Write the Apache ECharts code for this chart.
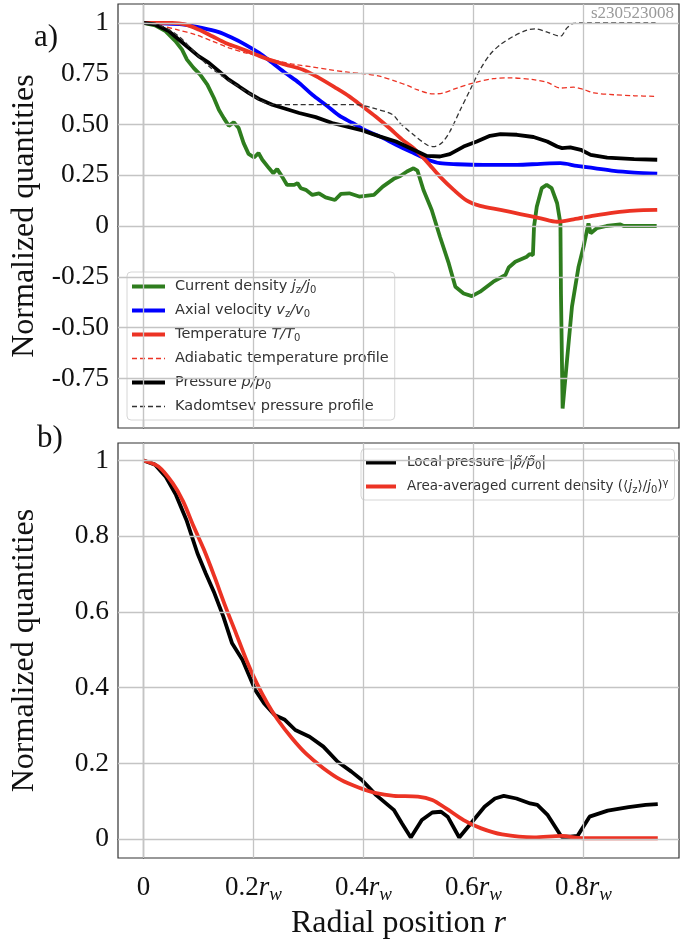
<!DOCTYPE html>
<html>
<head>
<meta charset="utf-8">
<script src="https://cdn.jsdelivr.net/npm/echarts@6/dist/echarts.min.js"></script>
<style>
  html, body { margin: 0; padding: 0; background: #fff; }
  #main { width: 688px; height: 941px; }
</style>
</head>
<body>
<div id="main"></div>
<script>
// ---- data (x in units of r_w) ----
var xTicks = [0, 0.2, 0.4, 0.6, 0.8];
var yTicksA = [-0.75, -0.5, -0.25, 0, 0.25, 0.5, 0.75, 1];
var yTicksB = [0, 0.2, 0.4, 0.6, 0.8, 1];

// panel a)
var currentDensity = [[0,1],[0.021,0.987],[0.040,0.959],[0.058,0.910],[0.070,0.868],[0.079,0.819],[0.091,0.778],[0.103,0.745],[0.116,0.696],[0.128,0.630],[0.137,0.572],[0.146,0.531],[0.155,0.493],[0.164,0.510],[0.173,0.482],[0.182,0.408],[0.191,0.355],[0.201,0.337],[0.209,0.359],[0.216,0.326],[0.228,0.285],[0.236,0.260],[0.243,0.280],[0.252,0.243],[0.261,0.202],[0.274,0.202],[0.280,0.211],[0.286,0.186],[0.295,0.178],[0.307,0.153],[0.319,0.161],[0.331,0.141],[0.348,0.128],[0.359,0.158],[0.374,0.161],[0.392,0.145],[0.419,0.153],[0.435,0.194],[0.455,0.232],[0.467,0.246],[0.479,0.268],[0.491,0.284],[0.498,0.273],[0.509,0.177],[0.524,0.079],[0.539,-0.053],[0.555,-0.184],[0.567,-0.299],[0.582,-0.332],[0.597,-0.345],[0.612,-0.323],[0.636,-0.274],[0.658,-0.241],[0.664,-0.204],[0.676,-0.176],[0.697,-0.151],[0.702,-0.138],[0.708,-0.143],[0.710,-0.003],[0.715,0.095],[0.724,0.186],[0.733,0.202],[0.742,0.186],[0.752,0.112],[0.758,0.013],[0.759,-0.332],[0.762,-0.898],[0.770,-0.660],[0.779,-0.397],[0.791,-0.200],[0.800,-0.102],[0.809,0.013],[0.813,-0.036],[0.824,-0.011],[0.842,0.000],[0.867,0.008],[0.873,0.000],[0.933,0.000]];
var axialVelocity = [[0,1],[0.033,0.997],[0.070,0.992],[0.106,0.975],[0.137,0.954],[0.161,0.926],[0.185,0.893],[0.210,0.852],[0.234,0.803],[0.258,0.753],[0.283,0.704],[0.307,0.646],[0.331,0.597],[0.356,0.543],[0.380,0.507],[0.404,0.470],[0.429,0.441],[0.459,0.400],[0.491,0.359],[0.515,0.329],[0.539,0.309],[0.570,0.304],[0.618,0.301],[0.679,0.301],[0.722,0.306],[0.758,0.309],[0.788,0.296],[0.819,0.285],[0.855,0.271],[0.892,0.263],[0.934,0.258]];
var temperature = [[0,1],[0.021,1.0],[0.052,1.0],[0.076,0.992],[0.100,0.967],[0.125,0.934],[0.149,0.901],[0.173,0.877],[0.204,0.844],[0.228,0.819],[0.258,0.794],[0.289,0.770],[0.319,0.729],[0.350,0.679],[0.374,0.638],[0.398,0.589],[0.422,0.539],[0.447,0.482],[0.471,0.424],[0.491,0.383],[0.515,0.317],[0.539,0.243],[0.564,0.178],[0.588,0.125],[0.612,0.099],[0.649,0.079],[0.685,0.059],[0.722,0.038],[0.752,0.021],[0.782,0.033],[0.819,0.051],[0.855,0.066],[0.892,0.076],[0.934,0.079]];
var adiabaticT = [[0,1],[0.033,0.984],[0.064,0.964],[0.094,0.942],[0.125,0.910],[0.155,0.877],[0.185,0.852],[0.216,0.832],[0.246,0.811],[0.277,0.794],[0.307,0.783],[0.337,0.770],[0.368,0.758],[0.398,0.750],[0.429,0.737],[0.459,0.712],[0.483,0.688],[0.497,0.671],[0.527,0.650],[0.545,0.655],[0.570,0.679],[0.600,0.704],[0.636,0.725],[0.667,0.729],[0.709,0.720],[0.734,0.707],[0.758,0.679],[0.782,0.683],[0.801,0.671],[0.819,0.655],[0.855,0.646],[0.892,0.641],[0.931,0.638]];
var pressure = [[0,1],[0.021,0.992],[0.046,0.959],[0.064,0.918],[0.082,0.877],[0.100,0.836],[0.119,0.803],[0.137,0.762],[0.155,0.720],[0.173,0.688],[0.191,0.655],[0.210,0.625],[0.234,0.597],[0.258,0.577],[0.283,0.556],[0.313,0.536],[0.343,0.507],[0.374,0.487],[0.398,0.470],[0.429,0.441],[0.459,0.416],[0.491,0.375],[0.515,0.345],[0.539,0.342],[0.557,0.354],[0.582,0.391],[0.606,0.416],[0.630,0.444],[0.649,0.452],[0.679,0.449],[0.709,0.438],[0.734,0.416],[0.752,0.391],[0.761,0.383],[0.776,0.387],[0.795,0.375],[0.813,0.350],[0.843,0.337],[0.892,0.329],[0.934,0.326]];
var kadomtsevP = [[0,1],[0.033,0.984],[0.064,0.934],[0.094,0.852],[0.119,0.786],[0.143,0.737],[0.167,0.696],[0.191,0.655],[0.216,0.613],[0.234,0.597],[0.277,0.597],[0.337,0.597],[0.386,0.597],[0.416,0.581],[0.453,0.548],[0.466,0.507],[0.491,0.449],[0.515,0.400],[0.527,0.391],[0.542,0.408],[0.557,0.465],[0.576,0.572],[0.594,0.671],[0.612,0.770],[0.630,0.844],[0.649,0.893],[0.673,0.934],[0.697,0.964],[0.712,0.970],[0.734,0.954],[0.758,0.934],[0.770,0.975],[0.782,0.997],[0.806,1.0],[0.931,1.0]];

// panel b)
var localPressure = [[0,1],[0.021,0.989],[0.040,0.958],[0.059,0.909],[0.078,0.843],[0.098,0.755],[0.113,0.702],[0.129,0.649],[0.145,0.588],[0.161,0.517],[0.180,0.473],[0.203,0.394],[0.219,0.359],[0.238,0.328],[0.257,0.315],[0.276,0.288],[0.302,0.270],[0.327,0.244],[0.353,0.204],[0.378,0.178],[0.397,0.156],[0.423,0.116],[0.455,0.077],[0.470,0.041],[0.486,0.004],[0.506,0.050],[0.525,0.070],[0.541,0.072],[0.553,0.059],[0.574,0.004],[0.595,0.041],[0.620,0.085],[0.639,0.107],[0.655,0.114],[0.678,0.107],[0.703,0.094],[0.716,0.090],[0.735,0.063],[0.760,0.006],[0.776,0.006],[0.789,0.008],[0.811,0.059],[0.844,0.075],[0.882,0.084],[0.913,0.090],[0.935,0.092]];
var avgCurrent = [[0,1],[0.027,0.984],[0.053,0.940],[0.072,0.892],[0.091,0.826],[0.110,0.764],[0.129,0.693],[0.149,0.614],[0.168,0.544],[0.187,0.473],[0.206,0.411],[0.225,0.359],[0.244,0.315],[0.270,0.266],[0.295,0.226],[0.327,0.187],[0.359,0.156],[0.391,0.136],[0.423,0.121],[0.455,0.114],[0.499,0.112],[0.525,0.103],[0.550,0.081],[0.582,0.050],[0.614,0.028],[0.652,0.012],[0.710,0.004],[0.760,0.008],[0.799,0.002],[0.935,0.002]];

var legendA = ['Current density', 'Axial velocity', 'Temperature', 'Adiabatic temperature profile', 'Pressure', 'Kadomtsev pressure profile'];
var legendB = ['Local pressure', 'Area-averaged current density'];
var thinLegend = { 'Adiabatic temperature profile': true, 'Kadomtsev pressure profile': true };
var legendText = {
  'Current density': 'Current density {i|j}{s|z}{i|/j}{s|0}',
  'Axial velocity': 'Axial velocity {i|v}{s|z}{i|/v}{s|0}',
  'Temperature': 'Temperature {i|T/T}{s|0}',
  'Adiabatic temperature profile': 'Adiabatic temperature profile',
  'Pressure': 'Pressure {i|p/p}{s|0}',
  'Kadomtsev pressure profile': 'Kadomtsev pressure profile',
  'Local pressure': 'Local pressure |{i|p\u0303/p\u0303}{s|0}|',
  'Area-averaged current density': 'Area-averaged current density (\u27e8{i|j}{s|z}\u27e9/{i|j}{s|0}){u|\u03b3}'
};

var X_MIN = -0.0464, X_MAX = 0.9736;
var SERIF = '"Liberation Serif", "DejaVu Serif", serif';
var SANS = '"DejaVu Sans", sans-serif';
var RED = '#ec3324', GREEN = '#2e7d1e', BLUE = '#0000ff';
var LW = 3.8;

function legendRich(fs) {
  var sub = Math.round(fs * 0.72);
  return {
    i: { fontStyle: 'italic', fontFamily: SANS, fontSize: fs, color: '#333', lineHeight: 17 },
    s: { fontFamily: SANS, fontSize: sub, color: '#333', verticalAlign: 'bottom', lineHeight: 17, padding: [7, 0, 0, 0] },
    u: { fontFamily: SANS, fontSize: sub, color: '#333', verticalAlign: 'top', lineHeight: 17, padding: [0, 0, 7, 0] }
  };
}

function legendItems(names) {
  return names.map(function (n) {
    return { name: n, lineStyle: { width: thinLegend[n] ? 1.4 : 4 } };
  });
}

function gridLines(xi, ticksY) {
  var d = [];
  xTicks.forEach(function (v) { d.push({ xAxis: v }); });
  ticksY.forEach(function (v) { d.push({ yAxis: v }); });
  return {
    type: 'line', xAxisIndex: xi, yAxisIndex: xi, data: [], silent: true, z: 1,
    markLine: {
      silent: true, symbol: 'none', animation: false,
      label: { show: false },
      lineStyle: { color: '#c4c4c4', width: 1.3, type: 'solid' },
      emphasis: { disabled: true },
      data: d
    }
  };
}

function curve(name, data, idx, color, width, dashed, smooth) {
  return {
    name: name, type: 'line', xAxisIndex: idx, yAxisIndex: idx,
    data: data, showSymbol: false, symbol: 'none', smooth: smooth ? 0.3 : false,
    z: 3,
    lineStyle: { color: color, width: width, type: dashed ? [5, 3] : 'solid' },
    itemStyle: { color: color }
  };
}

var xLabelRich = {
  n: { fontFamily: SERIF, fontSize: 27, color: '#111', lineHeight: 32 },
  r: { fontFamily: SERIF, fontStyle: 'italic', fontSize: 27, color: '#111', lineHeight: 32 },
  w: { fontFamily: SERIF, fontStyle: 'italic', fontSize: 19, color: '#111', verticalAlign: 'bottom', padding: [11, 0, 0, 0] }
};

function yAxisCfg(idx, min, max, ticks, fmt) {
  return {
    type: 'value', gridIndex: idx, min: min, max: max,
    name: 'Normalized quantities', nameLocation: 'middle', nameGap: 77,
    nameTextStyle: { fontFamily: SERIF, fontSize: 32, color: '#111' },
    axisLine: { show: true, lineStyle: { color: '#333', width: 1.2 } },
    axisTick: { show: true, inside: false, length: 5, lineStyle: { color: '#333', width: 1 }, customValues: ticks },
    axisLabel: { show: true, margin: 9, fontFamily: SERIF, fontSize: 27.5, color: '#111', customValues: ticks, formatter: fmt },
    splitLine: { show: false }
  };
}

var legendCommon = {
  orient: 'vertical', itemHeight: 16, itemGap: 7,
  backgroundColor: 'rgba(255,255,255,0.85)', borderColor: '#d6d6d6', borderWidth: 1, borderRadius: 4,
  selectedMode: false,
  itemStyle: { opacity: 0, color: 'rgba(0,0,0,0)', borderWidth: 0 },
  formatter: function (name) { return legendText[name]; }
};

var option = {
  animation: false,
  backgroundColor: '#fff',
  grid: [
    { left: 118, top: 4, width: 561, height: 424, show: true, borderColor: '#333', borderWidth: 1.2, backgroundColor: 'transparent' },
    { left: 118, top: 443, width: 561, height: 415, show: true, borderColor: '#333', borderWidth: 1.2, backgroundColor: 'transparent' }
  ],
  xAxis: [
    {
      type: 'value', gridIndex: 0, min: X_MIN, max: X_MAX,
      axisLine: { show: true, lineStyle: { color: '#333', width: 1.2 } },
      axisTick: { show: true, inside: false, length: 5, lineStyle: { color: '#333' }, customValues: xTicks },
      axisLabel: { show: false },
      splitLine: { show: false }
    },
    {
      type: 'value', gridIndex: 1, min: X_MIN, max: X_MAX,
      name: 'Radial position {i|r}', nameLocation: 'middle', nameGap: 50,
      nameTextStyle: { fontFamily: SERIF, fontSize: 32, color: '#111',
        rich: { i: { fontFamily: SERIF, fontStyle: 'italic', fontSize: 32, color: '#111' } } },
      axisLine: { show: true, lineStyle: { color: '#333', width: 1.2 } },
      axisTick: { show: true, inside: false, length: 5, lineStyle: { color: '#333' }, customValues: xTicks },
      axisLabel: {
        show: true, margin: 14, customValues: xTicks, rich: xLabelRich,
        formatter: function (v) {
          if (Math.abs(v) < 1e-9) return '{n|0}';
          return '{n|' + (Math.round(v * 10) / 10).toFixed(1) + '}{r|r}{w|w}';
        }
      },
      splitLine: { show: false }
    }
  ],
  yAxis: [
    yAxisCfg(0, -0.994, 1.0925, yTicksA, function (v) {
      if (Math.abs(v) < 1e-9) return '0';
      if (Math.abs(v - 1) < 1e-9) return '1';
      return v.toFixed(2);
    }),
    yAxisCfg(1, -0.0502, 1.0462, yTicksB, function (v) {
      if (Math.abs(v) < 1e-9) return '0';
      if (Math.abs(v - 1) < 1e-9) return '1';
      return v.toFixed(1);
    })
  ],
  legend: [
    Object.assign({}, legendCommon, {
      data: legendItems(legendA), left: 127, top: 272,
      itemWidth: 33, padding: [6, 6, 5, 3],
      textStyle: { fontFamily: SANS, fontSize: 14.5, lineHeight: 17, color: '#333', padding: [0, 0, 0, 5], rich: legendRich(14.5) }
    }),
    Object.assign({}, legendCommon, {
      data: legendItems(legendB), left: 361, top: 449,
      itemWidth: 30, padding: [5, 6, 5, 3],
      textStyle: { fontFamily: SANS, fontSize: 13.5, lineHeight: 17, color: '#333', padding: [0, 0, 0, 6], rich: legendRich(13.5) }
    })
  ],
  graphic: [
    { type: 'text', left: 34, top: 22, style: { text: 'a)', fontFamily: SERIF, fontSize: 31, fill: '#111' } },
    { type: 'text', left: 37, top: 423, style: { text: 'b)', fontFamily: SERIF, fontSize: 31, fill: '#111' } },
    { type: 'text', right: 14, top: 5, style: { text: 's230523008', fontFamily: SERIF, fontSize: 17, fill: '#9a9a9a' } }
  ],
  series: [
    gridLines(0, yTicksA),
    gridLines(1, yTicksB),
    curve('Current density', currentDensity, 0, GREEN, LW, false, false),
    curve('Axial velocity', axialVelocity, 0, BLUE, LW, false, true),
    curve('Temperature', temperature, 0, RED, LW, false, true),
    curve('Adiabatic temperature profile', adiabaticT, 0, RED, 1.3, true, true),
    curve('Pressure', pressure, 0, '#000', LW, false, false),
    curve('Kadomtsev pressure profile', kadomtsevP, 0, '#333', 1.3, true, true),
    curve('Local pressure', localPressure, 1, '#000', LW, false, false),
    curve('Area-averaged current density', avgCurrent, 1, RED, LW, false, true)
  ]
};

var myChart = echarts.init(document.getElementById('main'));
myChart.setOption(option);
</script>
</body>
</html>
